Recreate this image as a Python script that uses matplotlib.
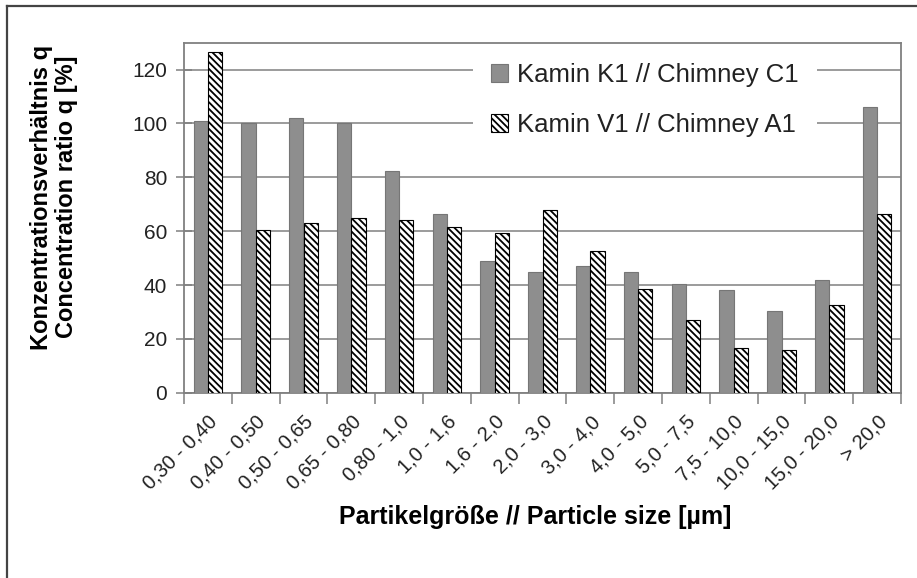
import numpy as np
import matplotlib
matplotlib.use("Agg")
import matplotlib.pyplot as plt
from matplotlib.lines import Line2D

# particle size classes and concentration ratios
size_classes = ["0,30 - 0,40", "0,40 - 0,50", "0,50 - 0,65", "0,65 - 0,80",
                "0,80 - 1,0", "1,0 - 1,6", "1,6 - 2,0", "2,0 - 3,0",
                "3,0 - 4,0", "4,0 - 5,0", "5,0 - 7,5", "7,5 - 10,0",
                "10,0 - 15,0", "15,0 - 20,0", "> 20,0"]
chimney_c1 = [101, 100, 102, 100, 82.5, 66.5, 49, 45, 47, 45, 40.5, 38, 30.5, 42, 106]
chimney_a1 = [126.5, 60.5, 63, 65, 64, 61.5, 59.5, 68, 52.5, 38.5, 27, 16.5, 16, 32.5, 66.5]
label_c1 = "Kamin K1 // Chimney C1"
label_a1 = "Kamin V1 // Chimney A1"
y_ticks = [0, 20, 40, 60, 80, 100, 120]

plt.rcParams["font.family"] = ["Liberation Sans", "DejaVu Sans"]
plt.rcParams["hatch.linewidth"] = 1.3
plt.rcParams["hatch.color"] = "black"

W, H = 917, 578
fig = plt.figure(figsize=(W / 100, H / 100), dpi=100)
ax = fig.add_axes([184 / W, 1 - 392.7 / H, (901 - 184) / W, (392.7 - 42.7) / H])

grey = "#808080"
x = np.arange(len(size_classes)) + 0.5
bw = 0.3
ax.bar(x - bw / 2, chimney_c1, bw, color="#8e8e8e", edgecolor="#767676",
       linewidth=0.8, label=label_c1, zorder=3)
ax.bar(x + bw / 2, chimney_a1, bw, color="white", edgecolor="black",
       hatch="\\\\\\\\\\", linewidth=0.8, label=label_a1, zorder=3)

ax.set_xlim(0, len(size_classes))
ax.set_ylim(0, 130)
ax.set_yticks(y_ticks)
ax.set_yticklabels([str(v) for v in y_ticks], fontsize=15, color="#222222")
ax.yaxis.grid(True, color=grey, linewidth=1.1, zorder=0)
ax.set_axisbelow(True)

# category boundary ticks, labels at the centres
ax.set_xticks(np.arange(len(size_classes) + 1))
ax.set_xticklabels([])
ax.set_xticks(x, minor=True)
ax.set_xticklabels(size_classes, minor=True, rotation=45, ha="right",
                   rotation_mode="anchor", fontsize=14.5, color="#222222")
ax.tick_params(axis="x", which="major", length=8, color=grey, width=1.1)
ax.tick_params(axis="x", which="minor", length=0, pad=14)
ax.tick_params(axis="y", direction="inout", length=12, color=grey, width=1.1, pad=6)

for s in ax.spines.values():
    s.set_color(grey)
    s.set_linewidth(1.3)

leg = ax.legend(loc="upper left", bbox_to_anchor=((473 - 184) / 717, 1 - (45 - 42.7) / 350),
                borderaxespad=0, borderpad=0.7, fontsize=18.5, frameon=True,
                fancybox=False, framealpha=1, facecolor="white", edgecolor="none",
                handlelength=0.68, handleheight=0.68, handletextpad=0.33,
                labelspacing=1.0)
for t in leg.get_texts():
    t.set_color("#222222")

fig.text(54 / W, 1 - 197 / H, "Konzentrationsverhältnis q\nConcentration ratio q [%]",
         rotation=90, ha="center", va="center", multialignment="center",
         fontsize=17, fontweight="bold", linespacing=1.15)
fig.text(535 / W, 1 - 517 / H, "Partikelgröße // Particle size [µm]",
         ha="center", va="center", fontsize=18, fontweight="bold")

# outer frame of the figure
fig.add_artist(Line2D([7 / W, 7 / W], [0, 1 - 6 / H], transform=fig.transFigure,
                      color="#444444", linewidth=1.6))
fig.add_artist(Line2D([7 / W, 1], [1 - 6 / H, 1 - 6 / H], transform=fig.transFigure,
                      color="#444444", linewidth=1.6))

fig.savefig("out.png", dpi=100)
